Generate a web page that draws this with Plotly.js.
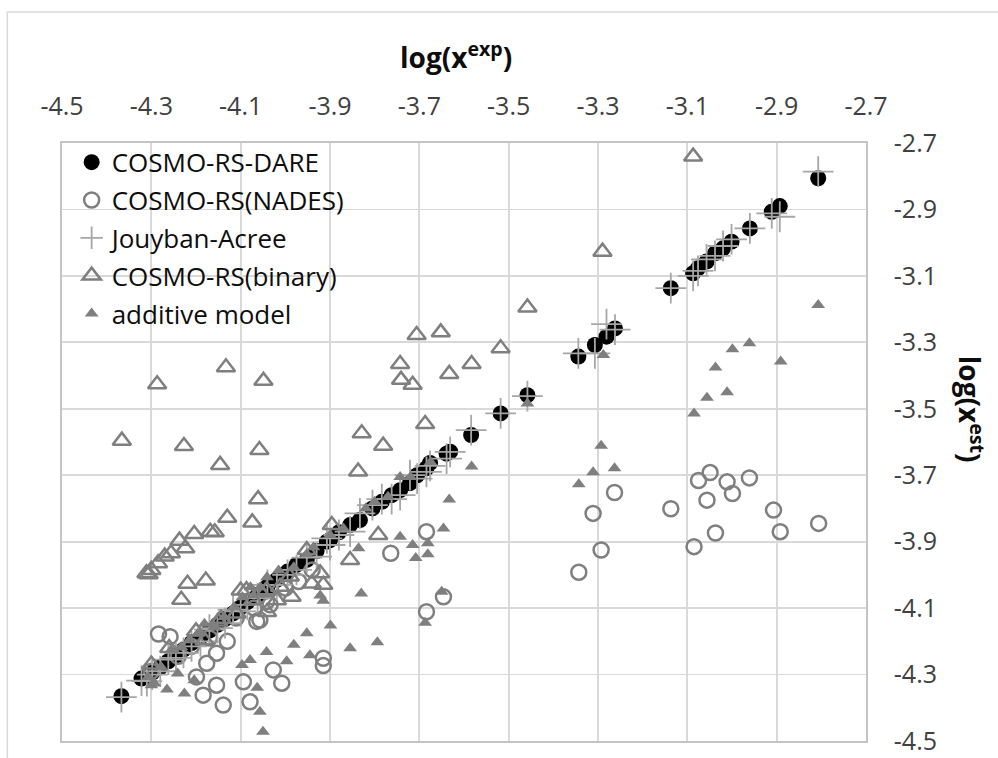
<!DOCTYPE html>
<html>
<head>
<meta charset="utf-8">
<script src="https://cdn.plot.ly/plotly-3.0.1.min.js"></script>
<style>
  html, body { margin: 0; padding: 0; background: #ffffff; }
  #chart { width: 998px; height: 758px; }
</style>
</head>
<body>
<div id="chart"></div>
<script>
// ---------- data ----------
const seriesNames = ["COSMO-RS-DARE", "COSMO-RS(NADES)", "Jouyban-Acree", "COSMO-RS(binary)", "additive model"];

// experimental log(x) shared by COSMO-RS-DARE and Jouyban-Acree
const expX = [-2.807,-2.893,-2.911,-2.960,-3.001,-3.020,-3.038,-3.057,-3.076,-3.087,-3.137,-3.262,-3.281,-3.307,-3.344,-3.458,-3.518,-3.584,-3.631,-3.639,-3.676,-3.684,-3.705,-3.721,-3.743,-3.762,-3.784,-3.805,-3.833,-3.855,-3.880,-3.900,-3.907,-3.930,-3.952,-3.975,-3.995,-4.019,-4.040,-4.062,-4.085,-4.100,-4.117,-4.135,-4.152,-4.170,-4.190,-4.210,-4.228,-4.245,-4.262,-4.280,-4.298,-4.310,-4.322,-4.367];
const dareY = [-2.806,-2.890,-2.907,-2.957,-2.997,-3.017,-3.032,-3.057,-3.077,-3.092,-3.137,-3.258,-3.283,-3.308,-3.343,-3.459,-3.514,-3.579,-3.629,-3.635,-3.663,-3.679,-3.700,-3.724,-3.745,-3.760,-3.780,-3.800,-3.835,-3.850,-3.872,-3.895,-3.900,-3.928,-3.955,-3.970,-3.990,-4.015,-4.035,-4.060,-4.082,-4.098,-4.116,-4.133,-4.150,-4.168,-4.188,-4.205,-4.225,-4.243,-4.260,-4.278,-4.294,-4.305,-4.312,-4.365];
const jouybanY = [-2.786,-2.922,-2.912,-2.957,-2.990,-3.010,-3.040,-3.050,-3.085,-3.100,-3.137,-3.262,-3.245,-3.333,-3.333,-3.462,-3.514,-3.564,-3.630,-3.650,-3.672,-3.690,-3.710,-3.700,-3.760,-3.772,-3.772,-3.790,-3.815,-3.870,-3.880,-3.910,-3.890,-3.945,-3.948,-3.985,-4.000,-4.030,-4.030,-4.070,-4.090,-4.110,-4.105,-4.145,-4.160,-4.165,-4.200,-4.215,-4.235,-4.250,-4.255,-4.290,-4.300,-4.320,-4.318,-4.368];

const nadesX = [-3.263,-3.311,-3.293,-3.343,-3.137,-3.075,-3.049,-3.011,-2.999,-2.961,-3.056,-3.037,-3.085,-2.907,-2.892,-2.806,
  -3.684,-3.764,-3.684,-3.646,-3.915,-3.915,
  -4.284,-4.258,-4.130,-4.154,-4.176,-4.199,-4.184,-4.154,-4.139,-4.094,-4.079,-4.027,-4.008,-4.057,-4.042,-4.034,-4.064,
  -4.240,-4.210,-4.170,-4.110,-4.070,-4.000,-3.970,-3.940,-4.300];
const nadesY = [-3.752,-3.815,-3.925,-3.992,-3.801,-3.716,-3.692,-3.720,-3.755,-3.708,-3.775,-3.874,-3.915,-3.805,-3.870,-3.845,
  -3.870,-3.935,-4.111,-4.066,-4.251,-4.273,
  -4.178,-4.186,-4.200,-4.236,-4.266,-4.307,-4.362,-4.332,-4.392,-4.322,-4.382,-4.286,-4.326,-4.136,-4.080,-4.090,-4.140,
  -4.245,-4.215,-4.190,-4.130,-4.100,-4.040,-4.020,-3.985,-4.290];

const binaryX = [-3.087,-3.290,-3.458,-3.518,-3.583,-3.633,-3.652,-3.706,-3.743,-3.741,-3.715,-3.687,-3.829,-3.781,-3.837,-3.896,-3.792,-3.855,-3.922,-3.941,-3.915,-3.952,-3.986,-3.990,-4.012,-4.042,-4.087,-4.072,-4.109,-4.019,-4.041,-4.144,-4.181,-4.100,-4.056,
  -4.287,-4.133,-4.049,-4.366,-4.227,-4.146,-4.058,-4.061,-4.130,-4.074,-4.168,-4.158,-4.204,-4.237,-4.224,-4.256,-4.270,-4.285,-4.300,-4.311,-4.306,-4.219,-4.178,-4.233,-4.260,-4.300,-4.200,-4.150];
const binaryY = [-2.741,-3.027,-3.195,-3.318,-3.365,-3.395,-3.270,-3.278,-3.365,-3.413,-3.428,-3.546,-3.574,-3.611,-3.689,-3.850,-3.880,-3.955,-3.995,-4.026,-4.030,-3.925,-4.066,-4.005,-4.036,-4.046,-4.046,-4.076,-4.116,-4.076,-4.112,-4.132,-4.197,-4.047,-4.052,
  -3.426,-3.375,-3.416,-3.596,-3.612,-3.669,-3.624,-3.772,-3.828,-3.842,-3.870,-3.872,-3.877,-3.897,-3.920,-3.935,-3.945,-3.965,-3.985,-3.995,-3.998,-4.027,-4.017,-4.075,-4.220,-4.270,-4.170,-4.140];

const additiveX = [-2.807,-2.891,-2.961,-2.999,-3.011,-3.037,-3.056,-3.085,-3.288,-3.263,-3.293,-3.311,-3.343,-3.458,-3.583,-3.633,-3.646,-3.650,-3.687,-3.681,-3.681,-3.708,-3.715,-3.743,-3.794,-3.830,-3.836,-3.855,-3.899,-3.915,-3.922,-3.945,-3.952,-3.981,-3.997,-4.042,-4.050,-4.057,-4.063,-4.079,-4.097,-4.226,-4.265,-4.300,
  -4.307,-4.293,-4.278,-4.256,-4.233,-4.215,-4.196,-4.181,-4.159,-4.137,-4.115,-4.096,-4.078,-4.056,-4.041,-4.015,-3.981,-3.952,-3.937,-4.241,-4.204,-3.900,-3.870,-3.820,-3.770,-3.720,-3.675,-3.800,-3.743];
const additiveY = [-3.188,-3.358,-3.303,-3.321,-3.450,-3.376,-3.467,-3.514,-3.338,-3.679,-3.611,-3.691,-3.727,-3.484,-3.674,-3.773,-3.860,-4.051,-4.144,-3.905,-3.938,-3.949,-3.910,-3.885,-4.203,-4.056,-3.920,-4.221,-4.152,-4.078,-4.062,-4.242,-4.176,-4.210,-4.260,-4.232,-4.472,-4.412,-4.340,-4.256,-4.271,-4.357,-4.345,-4.332,
  -4.307,-4.327,-4.277,-4.227,-4.217,-4.197,-4.177,-4.147,-4.157,-4.127,-4.097,-4.067,-4.037,-4.037,-4.007,-3.987,-3.977,-3.937,-3.917,-4.297,-4.317,-3.880,-3.860,-3.800,-3.765,-3.705,-3.660,-3.780,-3.705];

const tickVals = [-4.5,-4.3,-4.1,-3.9,-3.7,-3.5,-3.3,-3.1,-2.9,-2.7];
const tickText = ["-4.5","-4.3","-4.1","-3.9","-3.7","-3.5","-3.3","-3.1","-2.9","-2.7"];
const axisRange = [-4.5, -2.7];

// ---------- styling ----------
const FONT = "'Open Sans', Lato, 'Liberation Sans', sans-serif";
const GRAY = "#7f7f7f";

const traces = [
  {x: expX, y: dareY, name: seriesNames[0], legendgroup: "g0",
   marker: {symbol: "circle", size: 16, color: "#000000", line: {width: 0}}},
  {x: nadesX, y: nadesY, name: seriesNames[1], legendgroup: "g1",
   marker: {symbol: "circle-open", size: 15, color: GRAY, line: {width: 2.5, color: GRAY}}},
  {x: expX, y: jouybanY, name: seriesNames[2], legendgroup: "g2",
   marker: {symbol: "cross-thin-open", size: 22, color: "#a6a6a6", line: {width: 1.8, color: "#a6a6a6"}}},
  {x: binaryX, y: binaryY, name: seriesNames[3], legendgroup: "g3",
   marker: {symbol: "triangle-up-open", size: 16, color: GRAY, line: {width: 2.5, color: GRAY}}},
  {x: additiveX, y: additiveY, name: seriesNames[4], legendgroup: "g4",
   marker: {symbol: "triangle-up", size: 12, color: GRAY, line: {width: 0}}}
].map(t => Object.assign({type: "scatter", mode: "markers", hoverinfo: "x+y"}, t));

const axisCommon = {
  range: axisRange,
  tickmode: "array",
  tickvals: tickVals,
  ticktext: tickText,
  showgrid: true,
  gridcolor: "#d9d9d9",
  gridwidth: 1.8,
  zeroline: false,
  showline: true,
  mirror: true,
  linecolor: "#c4c4c4",
  linewidth: 1.8,
  ticks: "outside",
  tickcolor: "rgba(0,0,0,0)",
  tickfont: {family: FONT, size: 25, color: "#404040"},
  fixedrange: true
};

const layout = {
  width: 998,
  height: 758,
  margin: {l: 62, r: 132, t: 143, b: 17, pad: 0},
  paper_bgcolor: "#ffffff",
  plot_bgcolor: "#ffffff",
  showlegend: true,
  xaxis: Object.assign({}, axisCommon, {side: "top", ticklen: 16}),
  yaxis: Object.assign({}, axisCommon, {side: "right", ticklen: 21}),
  legend: {
    x: 0.012, y: 1.007, xanchor: "left", yanchor: "top",
    bgcolor: "rgba(0,0,0,0)", borderwidth: 0,
    font: {family: FONT, size: 26, color: "#0d0d0d"},
    traceorder: "grouped", tracegroupgap: 1,
    itemsizing: "trace"
  },
  annotations: [
    {text: "<b>log(x<sup>exp</sup>)</b>", xref: "paper", yref: "paper",
     x: 0.49, y: 1.147, xanchor: "center", yanchor: "middle", showarrow: false,
     font: {family: FONT, size: 28, color: "#0d0d0d"}},
    {text: "<b>log(x<sup>est</sup>)</b>", xref: "paper", yref: "paper",
     x: 1.131, y: 0.555, xanchor: "center", yanchor: "middle", showarrow: false,
     textangle: 90,
     font: {family: FONT, size: 28, color: "#0d0d0d"}}
  ],
  shapes: [
    {type: "rect", xref: "paper", yref: "paper", x0: -0.068, x1: 1.3, y0: -0.2, y1: 1.219,
     line: {color: "#d9d9d9", width: 1.5}, fillcolor: "rgba(0,0,0,0)", layer: "below"}
  ]
};

Plotly.newPlot("chart", traces, layout, {displayModeBar: false, staticPlot: true});
</script>
</body>
</html>
